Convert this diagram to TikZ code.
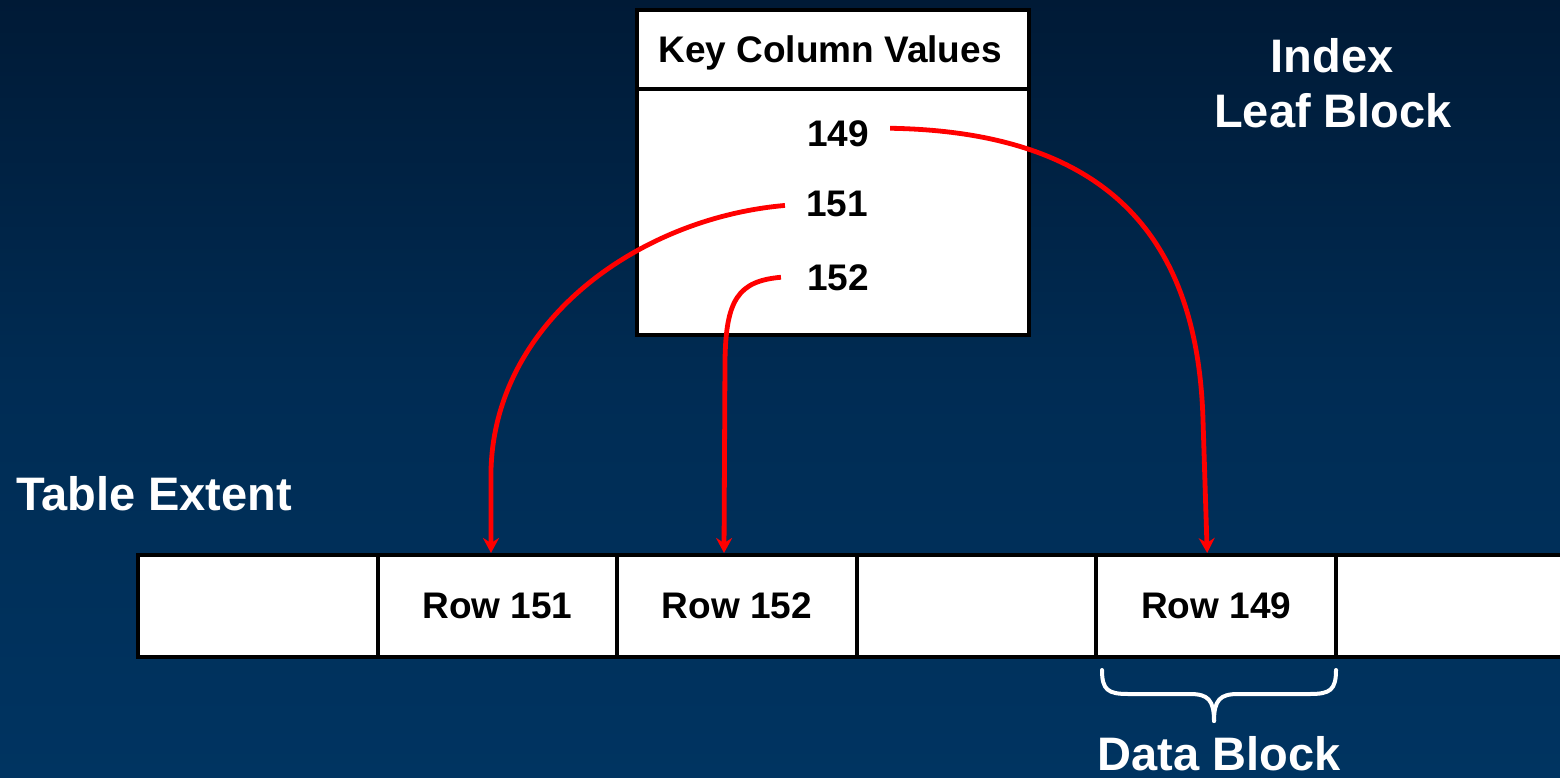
\documentclass[tikz,border=0pt]{standalone}
\usepackage{fontspec}
\setmainfont{Liberation Sans}
\usetikzlibrary{arrows.meta}
\definecolor{bgtop}{RGB}{0,26,54}
\definecolor{bgmid}{RGB}{0,44,84}
\definecolor{bgbot}{RGB}{0,52,97}
\definecolor{linkred}{RGB}{255,0,0}

\tikzset{
  box/.style={draw=black, fill=white, line width=4pt, inner sep=0pt},
  cell/.style={box, minimum width=239.6pt, minimum height=102pt,
    font=\fontsize{37}{44}\selectfont\bfseries},
  key/.style={anchor=base, inner sep=0pt, font=\fontsize{37}{44}\selectfont\bfseries},
  title/.style={anchor=base, inner sep=0pt, text=white,
    font=\fontsize{47}{56}\selectfont\bfseries},
  link/.style={draw=linkred, line width=4.8pt,
    -{Stealth[length=15pt,width=16pt,inset=5pt]}},
  brace/.style={draw=white, line width=4pt, line cap=round, line join=round},
}

\begin{document}
\begin{tikzpicture}[x=1pt,y=-1pt]
  \useasboundingbox (0,0) rectangle (1560,778);
  % background
  \shade[top color=bgtop, bottom color=bgbot, middle color=bgmid] (0,0) rectangle (1560,778);

  % index leaf block
  \node[box, minimum width=392pt, minimum height=246pt] (keys) at (833,212) {};
  \node[box, minimum width=392pt, minimum height=79pt] (hdr) at (833,49.5) {};
  \node[key] (hdrtext) at (830,63) {Key Column Values};
  \node[key] (k149) at (838,147) {149};
  \node[key] (k151) at (837,217) {151};
  \node[key] (k152) at (838,290) {152};

  \node[title] (idx) at (1332,73) {Index};
  \node[title] (leaf) at (1333,128) {Leaf Block};

  % table extent
  \node[title, anchor=base west] (ext) at (16,510) {Table Extent};
  \foreach \i/\t in {1/,2/Row 151,3/Row 152,4/,5/Row 149,6/}
    \node[cell] (c\i) at ({138+239.6*(\i-0.5)},606) {\t};

  % pointers from keys to rows
  \draw[link] ([xshift=21pt,yshift=6pt]k149.east)
    .. controls (1120,132) and (1198,250) .. (1203,420)
    -- ([xshift=-9pt]c5.north);
  \draw[link] ([xshift=-21pt,yshift=-1pt]k151.west)
    .. controls (640,218) and (495,320) .. (491,470)
    -- ([xshift=-6.4pt]c2.north);
  \draw[link] ([xshift=-26pt]k152.west)
    .. controls (738,281) and (726,300) .. (725,360)
    -- ([xshift=-13pt]c3.north);

  % data block brace
  \draw[brace] (1102,670) .. controls (1102,690) and (1108,694) .. (1128,694)
    -- (1190,694) .. controls (1208,694) and (1214,700) .. (1214,721);
  \draw[brace] (1336,670) .. controls (1336,690) and (1330,694) .. (1310,694)
    -- (1238,694) .. controls (1220,694) and (1214,700) .. (1214,721);
  \node[title] (db) at (1219,770) {Data Block};
\end{tikzpicture}
\end{document}
